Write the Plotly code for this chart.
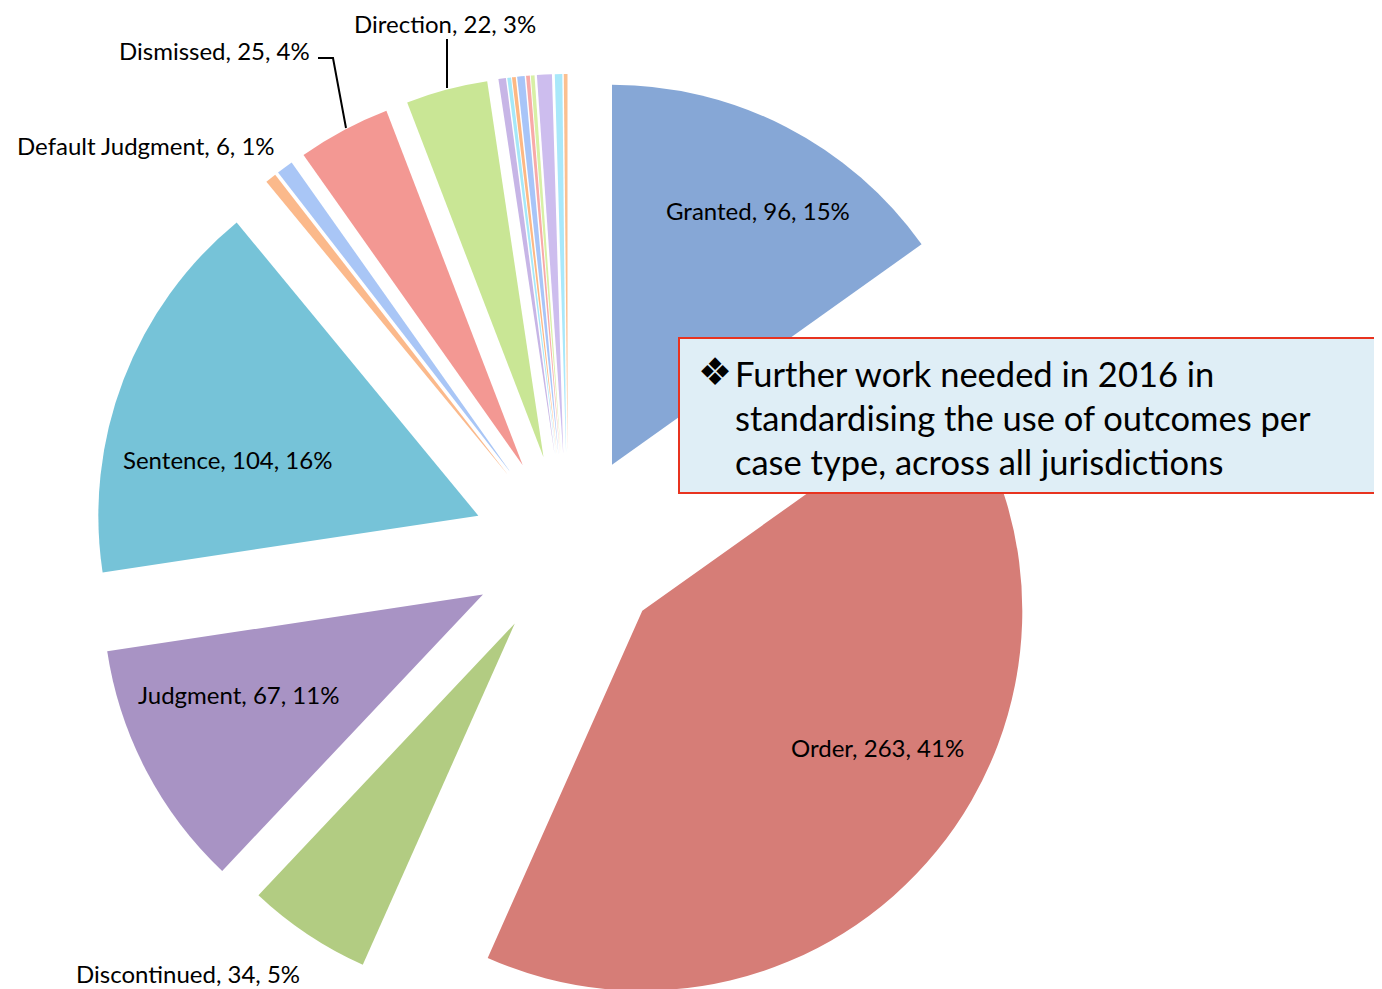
import math
import plotly.graph_objects as go

# ---------------- data ----------------
categories = ["Granted", "Order", "Discontinued", "Judgment", "Sentence",
              "Default Judgment", "Other A", "Dismissed", "Direction",
              "Other B", "Other C", "Other D", "Other E", "Other F",
              "Other G", "Other H", "Other I", "Other J"]
values = [96, 263, 34, 67, 104, 3, 4.5, 25, 22,
          2, 1, 1, 2, 1, 1, 4, 2, 1]

label_names = ["Granted", "Order", "Sentence", "Judgment", "Discontinued",
               "Default Judgment", "Dismissed", "Direction"]
label_counts = [96, 263, 104, 67, 34, 6, 25, 22]
label_pcts = [15, 41, 16, 11, 5, 1, 4, 3]

callout_lines = ["Further work needed in 2016 in",
                 "standardising the use of outcomes per",
                 "case type, across all jurisdictions"]

# ---------------- style ----------------
colors = ["#86a7d6", "#d67d77", "#b2cc82", "#a893c4", "#76c3d8",
          "#fbb98b", "#a9c6f6", "#f39893", "#c9e695",
          "#c7b5e6", "#a6e8f8", "#fdb884", "#a8c5f8", "#f8aaa8",
          "#d8f0a6", "#cdbdee", "#a9e8fa", "#fbc090"]

OFF = 8                 # page body margin in the browser
W, H = 1382 - OFF, 989
CX, CY = 568, 550       # pie centre (window pixels)
R = 380                 # pie radius in pixels
PULL = 96               # explode distance in pixels


def fx(px):
    return (px - OFF) / W


def fy(py):
    return 1 - (py - OFF) / H


label_pos = {
    "Granted": (758, 211), "Order": (877, 747), "Sentence": (227, 459),
    "Judgment": (238, 694), "Discontinued": (188, 973),
    "Default Judgment": (146, 145), "Dismissed": (214, 50),
    "Direction": (445, 23),
}

fig = go.Figure()
total = sum(values)
cum = 0.0
for i, v in enumerate(values):
    mid = (cum + v / 2) / total * 2 * math.pi
    cum += v
    cx = CX + PULL * math.sin(mid)
    cy = CY - PULL * math.cos(mid)
    dom_x = [fx(cx - R), fx(cx + R)]
    dom_y = [fy(cy + R), fy(cy - R)]
    dom_x = [min(max(d, 0), 1) for d in dom_x]
    dom_y = [min(max(d, 0), 1) for d in dom_y]
    cols = ["rgba(0,0,0,0)"] * len(values)
    cols[i] = colors[i]
    fig.add_trace(go.Pie(
        labels=categories, values=values, sort=False,
        direction="clockwise", rotation=0,
        marker=dict(colors=cols, line=dict(width=0)),
        textinfo="none", hoverinfo="label+value+percent",
        showlegend=False, domain=dict(x=dom_x, y=dom_y),
    ))

annotations = []
for name, cnt, pct in zip(label_names, label_counts, label_pcts):
    px, py = label_pos[name]
    annotations.append(dict(
        x=fx(px), y=fy(py), xref="paper", yref="paper",
        text=f"{name}, {cnt}, {pct}%", showarrow=False,
        xanchor="center", yanchor="middle", borderpad=0,
        font=dict(family="Lato", size=24, color="#000000"),
    ))

# callout text
annotations.append(dict(
    x=fx(715), y=fy(372), xref="paper", yref="paper", text="❖",
    showarrow=False, xanchor="center", yanchor="middle",
    font=dict(family="DejaVu Sans", size=38, color="#000000"),
))
for k, line in enumerate(callout_lines):
    annotations.append(dict(
        x=fx(733), y=fy(373 + 44 * k), xref="paper", yref="paper",
        text=line, showarrow=False, xanchor="left", yanchor="middle",
        font=dict(family="Lato", size=34.5, color="#000000"),
    ))

shapes = [
    dict(type="rect", xref="paper", yref="paper",
         x0=fx(679), x1=1.02, y0=fy(493), y1=fy(338),
         fillcolor="#dfeef6", line=dict(color="#e8331f", width=2),
         layer="above"),
    dict(type="path", xref="paper", yref="paper",
         path=f"M {fx(318)},{fy(58)} L {fx(333)},{fy(58)} L {fx(346)},{fy(128)}",
         line=dict(color="#000000", width=2)),
    dict(type="line", xref="paper", yref="paper",
         x0=fx(447), x1=fx(447), y0=fy(39), y1=fy(88),
         line=dict(color="#000000", width=2)),
]

fig.update_layout(
    width=W, height=H, margin=dict(l=0, r=0, t=0, b=0),
    paper_bgcolor="white", plot_bgcolor="white",
    annotations=annotations, shapes=shapes,
)

fig.write_html("out.html")
